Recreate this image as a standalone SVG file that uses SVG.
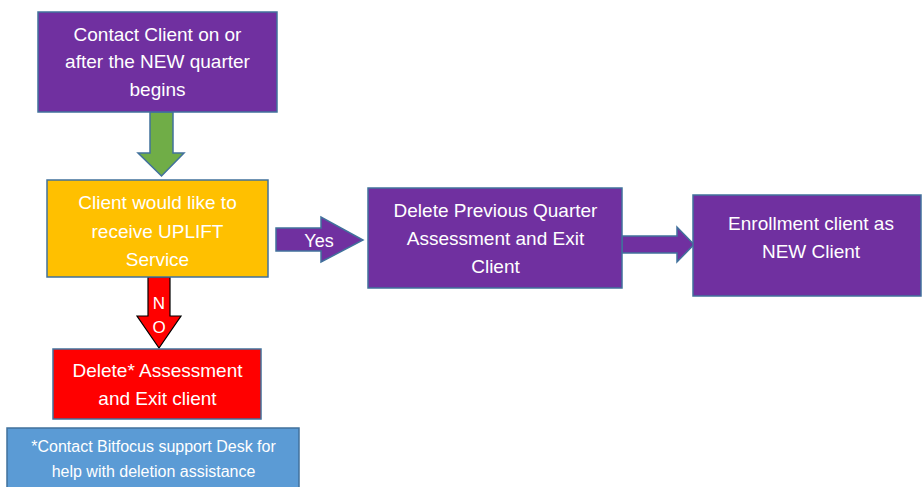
<svg xmlns="http://www.w3.org/2000/svg" width="922" height="487" viewBox="0 0 922 487">
<style>
.box{stroke:#41719C;stroke-width:1.5}
.purple{fill:#7030A0}
.t{font-family:"Liberation Sans",Arial,sans-serif;font-size:19px;fill:#ffffff;text-anchor:middle}
.small{font-size:16px}
</style>
<rect width="922" height="487" fill="#ffffff"/>
<g id="connectors">
  <polygon id="arrow-green" points="150,112 173,112 173,153 184,153 161.5,176 138,153 150,153" fill="#70AD47" stroke="#41719C" stroke-width="1.5"/>
  <polygon id="arrow-no" points="148,277 170,277 170,316 181,316 159,348 137,316 148,316" fill="#FF0000" stroke="#000000" stroke-width="1.2"/>
  <text class="t" x="159" y="309" style="font-size:17px">N</text>
  <text class="t" x="159" y="333" style="font-size:17px">O</text>
  <polygon id="arrow-yes" points="276,228 321,228 321,217 363,240 321,262 321,251 276,251" fill="#7030A0" stroke="#41719C" stroke-width="1.5"/>
  <text class="t" x="319" y="247" style="font-size:18px">Yes</text>
  <polygon id="arrow-next" points="622,236 677,236 677,227 694,244.5 677,262 677,253 622,253" fill="#7030A0" stroke="#41719C" stroke-width="1.5"/>
</g>
<g id="node-contact">
  <rect class="box purple" x="38" y="12" width="239" height="100"/>
  <text class="t" x="157.5" y="40.5">Contact Client on or</text>
  <text class="t" x="157.5" y="68">after the NEW quarter</text>
  <text class="t" x="157.5" y="95.5">begins</text>
</g>
<g id="node-decision">
  <rect class="box" x="47" y="180" width="221" height="97" fill="#FFC000"/>
  <text class="t" x="157.5" y="209">Client would like to</text>
  <text class="t" x="157.5" y="237.5">receive UPLIFT</text>
  <text class="t" x="157.5" y="265.5">Service</text>
</g>
<g id="node-delete-prev">
  <rect class="box purple" x="368" y="188" width="254" height="100"/>
  <text class="t" x="495.5" y="216.5">Delete Previous Quarter</text>
  <text class="t" x="495.5" y="244.5">Assessment and Exit</text>
  <text class="t" x="495.5" y="272.5">Client</text>
</g>
<g id="node-enroll">
  <rect class="box purple" x="693" y="195" width="228" height="101"/>
  <text class="t" x="811" y="230">Enrollment client as</text>
  <text class="t" x="811" y="258">NEW Client</text>
</g>
<g id="node-delete">
  <rect class="box" x="53" y="349" width="208" height="70" fill="#FF0000"/>
  <text class="t" x="157.5" y="377">Delete* Assessment</text>
  <text class="t" x="157.5" y="404.5">and Exit client</text>
</g>
<g id="node-note">
  <rect class="box" x="7" y="428" width="292" height="70" fill="#5B9BD5"/>
  <text class="t small" x="153.5" y="452">*Contact Bitfocus support Desk for</text>
  <text class="t small" x="153.5" y="476.5">help with deletion assistance</text>
</g>
</svg>
